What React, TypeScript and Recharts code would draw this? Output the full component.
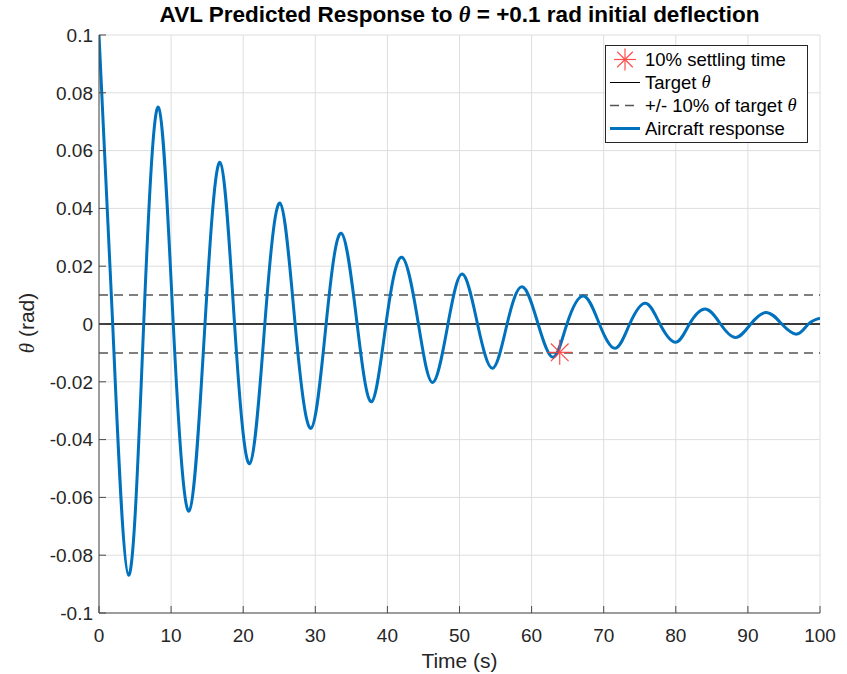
import React from 'react';
import {
  ComposedChart,
  Line,
  Scatter,
  XAxis,
  YAxis,
  CartesianGrid,
  ReferenceLine,
  Legend,
  Label,
} from 'recharts';

// Time samples (s) read at extremes and zero crossings
const timeS = [
  0, 1.9, 4.1, 6.2, 8.25, 10.3, 12.5, 14.7, 16.8, 18.8, 20.9, 23.0, 25.1, 27.2,
  29.4, 31.5, 33.6, 35.8, 37.8, 39.8, 42.0, 44.3, 46.3, 48.4, 50.4, 52.5, 54.6,
  56.6, 58.7, 60.9, 63.0, 64.9, 67.2, 69.4, 71.6, 73.6, 75.8, 77.8, 80.0, 81.9,
  84.1, 86.2, 88.3, 90.4, 92.6, 94.7, 96.8, 98.4, 100,
];
// Aircraft response theta (rad)
const thetaRad = [
  0.1, 0, -0.0869, 0, 0.075, 0, -0.0647, 0, 0.0559, 0, -0.0483, 0, 0.0418, 0,
  -0.0361, 0, 0.0314, 0, -0.0269, 0, 0.0231, 0, -0.0202, 0, 0.0173, 0, -0.0153,
  0, 0.0129, 0, -0.0115, 0, 0.0097, 0, -0.0084, 0, 0.0072, 0, -0.0063, 0, 0.0052,
  0, -0.0047, 0, 0.004, 0, -0.0035, 0, 0.002,
];
// 10% settling time marker
const settleTime = [63.9];
const settleTheta = [-0.0098];

const targetTheta = 0;
const bandTheta = [0.01, -0.01];

const xTicks = [0, 10, 20, 30, 40, 50, 60, 70, 80, 90, 100];
const yTicks = [-0.1, -0.08, -0.06, -0.04, -0.02, 0, 0.02, 0.04, 0.06, 0.08, 0.1];
const yTickLabels = ['-0.1', '-0.08', '-0.06', '-0.04', '-0.02', '0', '0.02', '0.04', '0.06', '0.08', '0.1'];

const responseData = timeS.map((t, i) => ({ t, theta: thetaRad[i] }));
const settleData = settleTime.map((t, i) => ({ t, theta: settleTheta[i] }));

const FONT = '"Liberation Sans", Arial, Helvetica, sans-serif';
const TEXT = '#262626';
const AXIS = '#4a4a4a';
const BLUE = '#0072BD';
const RED = '#ff3b3b';

const Star = ({ cx, cy, r = 12 }: { cx: number; cy: number; r?: number }) => {
  const d = r * Math.SQRT1_2;
  return (
    <g stroke={RED} strokeWidth={1.2} opacity={0.9}>
      <line x1={cx - r} y1={cy} x2={cx + r} y2={cy} />
      <line x1={cx} y1={cy - r} x2={cx} y2={cy + r} />
      <line x1={cx - d} y1={cy - d} x2={cx + d} y2={cy + d} />
      <line x1={cx - d} y1={cy + d} x2={cx + d} y2={cy - d} />
    </g>
  );
};

const Theta = () => (
  <span style={{ fontFamily: '"Liberation Serif", "DejaVu Serif", serif', fontStyle: 'italic' }}>θ</span>
);

const LegendBox = () => {
  const row: React.CSSProperties = {
    display: 'flex',
    alignItems: 'center',
    height: 23,
    whiteSpace: 'nowrap',
  };
  return (
    <div
      style={{
        border: `1px solid ${TEXT}`,
        background: '#fff',
        padding: '2px 10px 2px 4px',
        fontFamily: FONT,
        fontSize: 18.5,
        color: '#000',
        lineHeight: '23px',
      }}
    >
      <div style={row}>
        <svg width={30} height={23} style={{ marginRight: 5 }}>
          <Star cx={15} cy={11.5} r={11} />
        </svg>
        10% settling time
      </div>
      <div style={row}>
        <svg width={30} height={23} style={{ marginRight: 5 }}>
          <line x1={0} y1={11.5} x2={30} y2={11.5} stroke="#000" strokeWidth={1} />
        </svg>
        Target&nbsp;<Theta />
      </div>
      <div style={row}>
        <svg width={30} height={23} style={{ marginRight: 5 }}>
          <line x1={0} y1={11.5} x2={30} y2={11.5} stroke="#555" strokeWidth={1.5} strokeDasharray="9 6" />
        </svg>
        +/- 10% of target&nbsp;<Theta />
      </div>
      <div style={row}>
        <svg width={30} height={23} style={{ marginRight: 5 }}>
          <line x1={0} y1={11.5} x2={30} y2={11.5} stroke={BLUE} strokeWidth={3} />
        </svg>
        Aircraft response
      </div>
    </div>
  );
};

const fmtY = (v: number) => {
  const i = yTicks.findIndex((y) => Math.abs(y - v) < 1e-9);
  return i >= 0 ? yTickLabels[i] : String(v);
};

export default function App() {
  return (
    <div
      style={{
        position: 'absolute',
        left: 0,
        top: 0,
        width: 847,
        height: 674,
        background: '#fff',
        fontFamily: FONT,
      }}
    >
      <div
        style={{
          position: 'absolute',
          left: 99,
          width: 721,
          top: 4,
          textAlign: 'center',
          fontWeight: 'bold',
          fontSize: 22.5,
          lineHeight: '22.5px',
          color: '#000',
          whiteSpace: 'nowrap',
          zIndex: 2,
        }}
      >
        AVL Predicted Response to <Theta /> = +0.1 rad initial deflection
      </div>
      <ComposedChart
        width={847}
        height={674}
        data={responseData}
        margin={{ top: 35, right: 27, bottom: 0, left: 0 }}
      >
        <CartesianGrid stroke="#dedede" strokeWidth={1} />
        <XAxis
          dataKey="t"
          type="number"
          domain={[0, 100]}
          ticks={xTicks}
          allowDataOverflow
          height={61}
          tickSize={-7}
          tickMargin={23}
          tick={{ fill: TEXT, fontSize: 19 }}
          stroke={AXIS}
          tickLine={{ stroke: AXIS }}
          axisLine={{ stroke: AXIS }}
        >
          <Label
            content={(p: any) => {
              const vb = p.viewBox || { x: 99, y: 613, width: 721 };
              return (
                <text
                  x={vb.x + vb.width / 2}
                  y={vb.y + 55}
                  textAnchor="middle"
                  fill={TEXT}
                  fontSize={21}
                >
                  Time (s)
                </text>
              );
            }}
          />
        </XAxis>
        <XAxis
          xAxisId="top"
          orientation="top"
          type="number"
          domain={[0, 100]}
          ticks={xTicks}
          allowDataOverflow
          height={0}
          tick={false}
          tickSize={-7}
          tickLine={{ stroke: AXIS }}
          axisLine={{ stroke: AXIS }}
        />
        <YAxis
          type="number"
          domain={[-0.1, 0.1]}
          ticks={yTicks}
          allowDataOverflow
          width={99}
          tickSize={-7}
          tickMargin={13}
          tickFormatter={fmtY}
          tick={{ fill: TEXT, fontSize: 19 }}
          tickLine={{ stroke: AXIS }}
          axisLine={{ stroke: AXIS }}
        >
          <Label
            content={(p: any) => {
              const vb = p.viewBox || { x: 0, y: 35, height: 578 };
              const cx = vb.x + 34;
              const cy = vb.y + vb.height / 2 - 1;
              return (
                <text
                  x={cx}
                  y={cy}
                  transform={`rotate(-90 ${cx} ${cy})`}
                  textAnchor="middle"
                  fill={TEXT}
                  fontSize={21}
                >
                  <tspan fontFamily='"Liberation Serif", serif' fontStyle="italic">θ</tspan>
                  <tspan> (rad)</tspan>
                </text>
              );
            }}
          />
        </YAxis>
        <YAxis
          yAxisId="right"
          orientation="right"
          type="number"
          domain={[-0.1, 0.1]}
          ticks={yTicks}
          allowDataOverflow
          width={0}
          tick={false}
          tickSize={-7}
          tickLine={{ stroke: AXIS }}
          axisLine={{ stroke: AXIS }}
        />
        <ReferenceLine y={targetTheta} stroke="#000" strokeWidth={1.3} />
        {bandTheta.map((b) => (
          <ReferenceLine key={b} y={b} stroke="#555" strokeWidth={1.5} strokeDasharray="9 6" />
        ))}
        <Line
          dataKey="theta"
          type="natural"
          stroke={BLUE}
          strokeWidth={3}
          dot={false}
          activeDot={false}
          isAnimationActive={false}
        />
        <Scatter
          data={settleData}
          dataKey="theta"
          isAnimationActive={false}
          shape={(p: any) => <Star cx={p.cx} cy={p.cy} r={12.5} />}
        />
        <Legend
          layout="vertical"
          align="center"
          verticalAlign="middle"
          wrapperStyle={{ position: 'absolute', left: 605, top: 45, width: 'auto' }}
          content={() => <LegendBox />}
        />
      </ComposedChart>
    </div>
  );
}
